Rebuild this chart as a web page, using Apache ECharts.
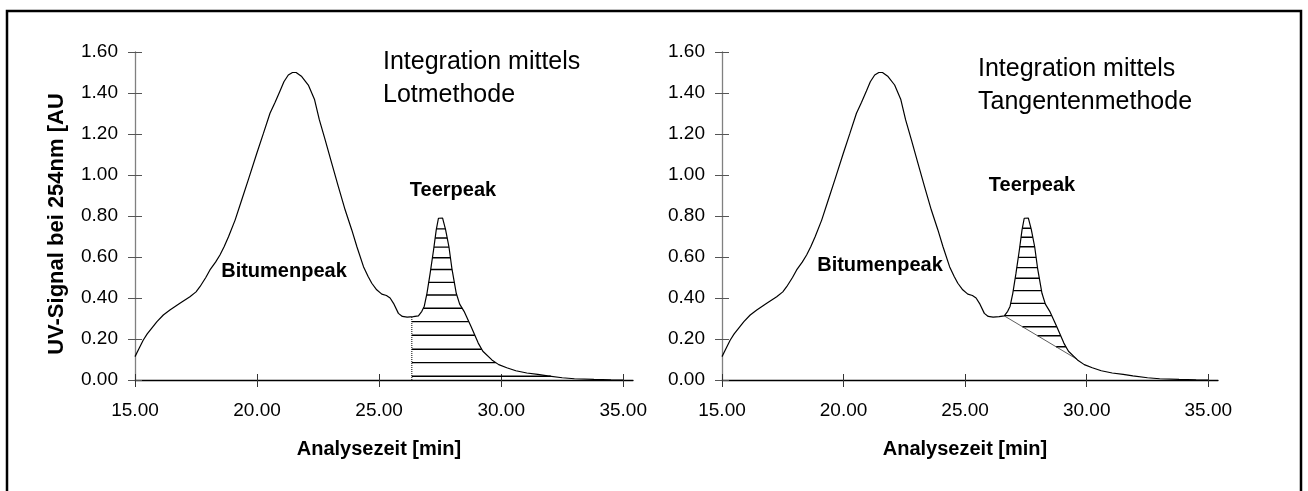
<!DOCTYPE html>
<html>
<head>
<meta charset="utf-8">
<script src="https://cdn.jsdelivr.net/npm/echarts@6/dist/echarts.min.js"></script>
<style>
    html, body { margin: 0; padding: 0; background: #fff; }
    #chart { width: 1308px; height: 491px; }
</style>
</head>
<body>
<div id="chart"></div>
<script>
// Chromatogram: Analysezeit [min] -> UV-Signal [AU]
const times = [15.00, 15.15, 15.34, 15.50, 15.68, 15.90, 16.16, 16.43, 16.84, 17.25,
    17.50, 17.66, 17.90, 18.07, 18.30, 18.48, 18.65, 18.83, 19.10, 19.37,
    19.64, 19.99, 20.26, 20.53, 20.74, 20.94, 21.10, 21.28, 21.45, 21.60,
    21.83, 22.10, 22.35, 22.55, 22.79, 23.06, 23.33, 23.61, 23.88, 24.09,
    24.36, 24.55, 24.70, 24.90, 25.11, 25.30, 25.45, 25.59, 25.79, 25.95,
    26.15, 26.40, 26.61, 26.75, 26.85, 26.96, 27.09, 27.23, 27.34, 27.43,
    27.50, 27.60, 27.72, 27.86, 27.98, 28.16, 28.30, 28.48, 28.77, 29.06,
    29.25, 29.62, 29.90, 30.23, 30.60, 31.05, 31.50, 31.90, 32.50, 33.00,
    33.80, 34.50, 35.00];
const signal = [0.114, 0.150, 0.195, 0.225, 0.252, 0.285, 0.317, 0.341, 0.374, 0.406,
    0.430, 0.455, 0.500, 0.537, 0.575, 0.610, 0.650, 0.699, 0.780, 0.878,
    0.976, 1.106, 1.203, 1.301, 1.355, 1.410, 1.455, 1.488, 1.500, 1.500,
    1.480, 1.439, 1.370, 1.270, 1.171, 1.057, 0.943, 0.829, 0.732, 0.650,
    0.553, 0.505, 0.472, 0.440, 0.419, 0.412, 0.400, 0.374, 0.325, 0.310,
    0.307, 0.309, 0.313, 0.335, 0.360, 0.423, 0.520, 0.634, 0.732, 0.789,
    0.794, 0.790, 0.735, 0.650, 0.545, 0.423, 0.370, 0.335, 0.260, 0.180,
    0.140, 0.098, 0.075, 0.060, 0.045, 0.034, 0.027, 0.020, 0.011, 0.006,
    0.003, 0.001, 0.000];

const xTicks = [15, 20, 25, 30, 35];

// left panel: perpendicular drop (Lotmethode)
const lotTime = 26.34;
const lotHatch = [0.737, 0.693, 0.648, 0.596, 0.539, 0.476, 0.415, 0.350, 0.285, 0.218, 0.150, 0.085, 0.018];

// right panel: tangent skim (Tangentenmethode)
const tangentTimes = [26.62, 29.62];
const tangentValues = [0.312, 0.100];
const tangentHatch = [0.740, 0.696, 0.650, 0.598, 0.548, 0.496, 0.436, 0.374, 0.314, 0.260, 0.216, 0.162];

const font = 'Liberation Sans, Arial, sans-serif';
const curve = times.map((t, i) => [t, signal[i]]);

function valueAt(t) {
    for (let i = 0; i < times.length - 1; i++) {
        if (t >= times[i] && t <= times[i + 1]) {
            return signal[i] + (t - times[i]) / (times[i + 1] - times[i]) * (signal[i + 1] - signal[i]);
        }
    }
    return 0;
}

function cross(i, lv) {
    return times[i] + (lv - signal[i]) / (signal[i + 1] - signal[i]) * (times[i + 1] - times[i]);
}

// where the level meets the rising and the falling flank of the peak after 'from'
function peakSpan(lv, from) {
    let p = 0;
    times.forEach((t, i) => { if (t >= from && (p === 0 || signal[i] > signal[p])) p = i; });
    let left = null, right = null;
    for (let i = p - 1; i >= 0 && times[i + 1] >= from - 0.3; i--) {
        if (signal[i] <= lv && signal[i + 1] > lv) { left = cross(i, lv); break; }
    }
    for (let i = p; i < times.length - 1; i++) {
        if (signal[i] >= lv && signal[i + 1] < lv) { right = cross(i, lv); break; }
    }
    return [left, right];
}

function lotSegments() {
    const data = [];
    lotHatch.forEach(lv => {
        const [l, r] = peakSpan(lv, lotTime);
        const a = l === null ? lotTime : Math.max(l, lotTime);
        data.push([a, lv], [r, lv], [r, '-']);
    });
    return data;
}

function tangentSegments() {
    const data = [];
    const [t1, t2] = tangentTimes, [v1, v2] = tangentValues;
    tangentHatch.forEach(lv => {
        const [l, r] = peakSpan(lv, t1);
        const tan = t1 + (lv - v1) / (v2 - v1) * (t2 - t1);
        const a = lv >= v1 ? (l === null ? t1 : l) : (l === null ? tan : Math.max(l, tan));
        data.push([a, lv], [r, lv], [r, '-']);
    });
    return data;
}

function xAxes(grid) {
    const main = {
        type: 'value', gridIndex: grid, min: 15, max: 35.4,
        axisLine: { onZero: false, lineStyle: { color: '#000', width: 1.3 } },
        axisTick: { customValues: xTicks, length: 7, lineStyle: { color: '#333', width: 1 } },
        axisLabel: { customValues: xTicks, formatter: v => v.toFixed(2), margin: 21,
            fontSize: 19, color: '#000', fontFamily: font },
        splitLine: { show: false },
        name: 'Analysezeit [min]', nameLocation: 'middle', nameGap: 59,
        nameTextStyle: { fontSize: 20, fontWeight: 'bold', color: '#000', fontFamily: font, padding: [0, 10, 0, 0] }
    };
    const crossTicks = {
        type: 'value', gridIndex: grid, min: 15, max: 35.4, position: 'bottom',
        axisLine: { show: false },
        axisTick: { inside: true, customValues: xTicks, length: 6, lineStyle: { color: '#333', width: 1 } },
        axisLabel: { show: false }, splitLine: { show: false }
    };
    return [main, crossTicks];
}

function yAxes(grid) {
    const main = {
        type: 'value', gridIndex: grid, min: 0, max: 1.6, interval: 0.2,
        axisLine: { show: true, onZero: false, lineStyle: { color: '#808080', width: 1.3 } },
        axisTick: { show: true, length: 7, lineStyle: { color: '#555', width: 1 } },
        axisLabel: { formatter: v => v.toFixed(2), margin: 17, fontSize: 19, color: '#000', fontFamily: font },
        splitLine: { show: false }
    };
    const crossTicks = {
        type: 'value', gridIndex: grid, min: 0, max: 1.6, interval: 0.2, position: 'left',
        axisLine: { show: false },
        axisTick: { show: true, inside: true, length: 7, lineStyle: { color: '#555', width: 1 } },
        axisLabel: { show: false }, splitLine: { show: false }
    };
    return [main, crossTicks];
}

function label(text, x, y, size, bold, align) {
    return {
        type: 'text', x: x, y: y,
        style: { text: text, fontSize: size, fontWeight: bold ? 'bold' : 'normal', fontFamily: font,
            fill: '#000', align: align || 'center', verticalAlign: 'middle' }
    };
}

const chart = echarts.init(document.getElementById('chart'));
chart.setOption({
    animation: false,
    backgroundColor: '#fff',
    grid: [
        { left: 135, top: 52, width: 498, height: 328 },
        { left: 722, top: 52, width: 496, height: 328 }
    ],
    xAxis: [...xAxes(0), ...xAxes(1)],
    yAxis: [...yAxes(0), ...yAxes(1)],
    series: [
        { type: 'line', xAxisIndex: 0, yAxisIndex: 0, data: lotSegments(), symbol: 'none',
            lineStyle: { color: '#000', width: 1.4 } },
        { type: 'line', xAxisIndex: 0, yAxisIndex: 0, symbol: 'none',
            data: [[lotTime, 0], [lotTime, valueAt(lotTime)]],
            lineStyle: { color: '#000', width: 1, type: 'dotted' } },
        { type: 'line', xAxisIndex: 0, yAxisIndex: 0, data: curve, symbol: 'none',
            lineStyle: { color: '#000', width: 1.2 } },
        { type: 'line', xAxisIndex: 2, yAxisIndex: 2, data: tangentSegments(), symbol: 'none',
            lineStyle: { color: '#000', width: 1.4 } },
        { type: 'line', xAxisIndex: 2, yAxisIndex: 2, symbol: 'none',
            data: tangentTimes.map((t, i) => [t, tangentValues[i]]),
            lineStyle: { color: '#333', width: 0.8 } },
        { type: 'line', xAxisIndex: 2, yAxisIndex: 2, data: curve, symbol: 'none',
            lineStyle: { color: '#000', width: 1.2 } }
    ],
    graphic: [
        { type: 'rect', shape: { x: 7, y: 11, width: 1294, height: 500 },
            style: { fill: 'none', stroke: '#000', lineWidth: 2.5 } },
        { type: 'text', x: 57, y: 224, rotation: Math.PI / 2,
            style: { text: 'UV-Signal bei 254nm [AU', fontSize: 22, fontWeight: 'bold', fontFamily: font,
                fill: '#000', align: 'center', verticalAlign: 'middle' } },
        label('Integration mittels', 383, 62, 25, false, 'left'),
        label('Lotmethode', 383, 95, 25, false, 'left'),
        label('Integration mittels', 978, 69, 25, false, 'left'),
        label('Tangentenmethode', 978, 102, 25, false, 'left'),
        label('Teerpeak', 453, 190, 20, true),
        label('Bitumenpeak', 284, 271, 20, true),
        label('Teerpeak', 1032, 185, 20, true),
        label('Bitumenpeak', 880, 265, 20, true)
    ]
});
</script>
</body>
</html>
